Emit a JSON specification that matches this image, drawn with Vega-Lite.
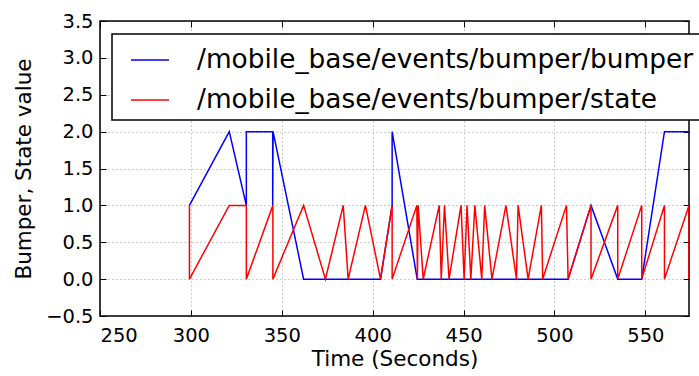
{
  "$schema": "https://vega.github.io/schema/vega-lite/v6.json",
  "width": 589,
  "height": 295,
  "autosize": {"type": "none"},
  "padding": {"left": 100, "top": 21, "right": 10, "bottom": 60},
  "background": "white",
  "config": {
    "font": "DejaVu Sans",
    "view": {"stroke": "black", "strokeWidth": 1.5},
    "axis": {
      "domain": false,
      "labelColor": "black",
      "labelFontSize": 19.5,
      "tickColor": "black",
      "tickSize": -6,
      "tickWidth": 1,
      "gridColor": "#000000",
      "gridOpacity": 0.4,
      "gridDash": [1, 3],
      "gridWidth": 1,
      "titleColor": "black",
      "titleFontSize": 21.5,
      "titleFontWeight": "normal"
    }
  },
  "datasets": {
    "bumper": [
      {"i": 0, "series": "/mobile_base/events/bumper/bumper", "t": 299.2, "v": 1},
      {"i": 1, "series": "/mobile_base/events/bumper/bumper", "t": 321.1, "v": 2},
      {"i": 2, "series": "/mobile_base/events/bumper/bumper", "t": 330.5, "v": 1},
      {"i": 3, "series": "/mobile_base/events/bumper/bumper", "t": 330.5, "v": 2},
      {"i": 4, "series": "/mobile_base/events/bumper/bumper", "t": 345.0, "v": 2},
      {"i": 5, "series": "/mobile_base/events/bumper/bumper", "t": 345.0, "v": 1},
      {"i": 6, "series": "/mobile_base/events/bumper/bumper", "t": 345.2, "v": 2},
      {"i": 7, "series": "/mobile_base/events/bumper/bumper", "t": 362.0, "v": 0},
      {"i": 8, "series": "/mobile_base/events/bumper/bumper", "t": 404.3, "v": 0},
      {"i": 9, "series": "/mobile_base/events/bumper/bumper", "t": 410.7, "v": 1},
      {"i": 10, "series": "/mobile_base/events/bumper/bumper", "t": 410.7, "v": 2},
      {"i": 11, "series": "/mobile_base/events/bumper/bumper", "t": 424.5, "v": 0},
      {"i": 12, "series": "/mobile_base/events/bumper/bumper", "t": 507.5, "v": 0},
      {"i": 13, "series": "/mobile_base/events/bumper/bumper", "t": 520.1, "v": 1},
      {"i": 14, "series": "/mobile_base/events/bumper/bumper", "t": 534.8, "v": 0},
      {"i": 15, "series": "/mobile_base/events/bumper/bumper", "t": 548.0, "v": 0},
      {"i": 16, "series": "/mobile_base/events/bumper/bumper", "t": 560.5, "v": 2},
      {"i": 17, "series": "/mobile_base/events/bumper/bumper", "t": 574.0, "v": 2}
    ],
    "state": [
      {"i": 0, "series": "/mobile_base/events/bumper/state", "t": 299.2, "v": 1},
      {"i": 1, "series": "/mobile_base/events/bumper/state", "t": 299.2, "v": 0},
      {"i": 2, "series": "/mobile_base/events/bumper/state", "t": 321.1, "v": 1},
      {"i": 3, "series": "/mobile_base/events/bumper/state", "t": 330.5, "v": 1},
      {"i": 4, "series": "/mobile_base/events/bumper/state", "t": 330.5, "v": 0},
      {"i": 5, "series": "/mobile_base/events/bumper/state", "t": 345.1, "v": 1},
      {"i": 6, "series": "/mobile_base/events/bumper/state", "t": 345.1, "v": 0},
      {"i": 7, "series": "/mobile_base/events/bumper/state", "t": 362.0, "v": 1},
      {"i": 8, "series": "/mobile_base/events/bumper/state", "t": 374.0, "v": 0},
      {"i": 9, "series": "/mobile_base/events/bumper/state", "t": 383.8, "v": 1},
      {"i": 10, "series": "/mobile_base/events/bumper/state", "t": 386.5, "v": 0},
      {"i": 11, "series": "/mobile_base/events/bumper/state", "t": 396.0, "v": 1},
      {"i": 12, "series": "/mobile_base/events/bumper/state", "t": 404.3, "v": 0},
      {"i": 13, "series": "/mobile_base/events/bumper/state", "t": 410.7, "v": 1},
      {"i": 14, "series": "/mobile_base/events/bumper/state", "t": 410.7, "v": 0},
      {"i": 15, "series": "/mobile_base/events/bumper/state", "t": 424.3, "v": 1},
      {"i": 16, "series": "/mobile_base/events/bumper/state", "t": 424.6, "v": 0},
      {"i": 17, "series": "/mobile_base/events/bumper/state", "t": 425.0, "v": 1},
      {"i": 18, "series": "/mobile_base/events/bumper/state", "t": 427.8, "v": 0},
      {"i": 19, "series": "/mobile_base/events/bumper/state", "t": 436.6, "v": 1},
      {"i": 20, "series": "/mobile_base/events/bumper/state", "t": 437.7, "v": 0},
      {"i": 21, "series": "/mobile_base/events/bumper/state", "t": 439.5, "v": 1},
      {"i": 22, "series": "/mobile_base/events/bumper/state", "t": 442.0, "v": 0},
      {"i": 23, "series": "/mobile_base/events/bumper/state", "t": 448.6, "v": 1},
      {"i": 24, "series": "/mobile_base/events/bumper/state", "t": 450.3, "v": 0},
      {"i": 25, "series": "/mobile_base/events/bumper/state", "t": 451.9, "v": 1},
      {"i": 26, "series": "/mobile_base/events/bumper/state", "t": 454.0, "v": 0},
      {"i": 27, "series": "/mobile_base/events/bumper/state", "t": 456.2, "v": 1},
      {"i": 28, "series": "/mobile_base/events/bumper/state", "t": 460.0, "v": 0},
      {"i": 29, "series": "/mobile_base/events/bumper/state", "t": 461.6, "v": 1},
      {"i": 30, "series": "/mobile_base/events/bumper/state", "t": 465.6, "v": 0},
      {"i": 31, "series": "/mobile_base/events/bumper/state", "t": 473.3, "v": 1},
      {"i": 32, "series": "/mobile_base/events/bumper/state", "t": 479.1, "v": 0},
      {"i": 33, "series": "/mobile_base/events/bumper/state", "t": 480.0, "v": 1},
      {"i": 34, "series": "/mobile_base/events/bumper/state", "t": 485.5, "v": 0},
      {"i": 35, "series": "/mobile_base/events/bumper/state", "t": 492.8, "v": 1},
      {"i": 36, "series": "/mobile_base/events/bumper/state", "t": 493.5, "v": 0},
      {"i": 37, "series": "/mobile_base/events/bumper/state", "t": 506.6, "v": 1},
      {"i": 38, "series": "/mobile_base/events/bumper/state", "t": 507.5, "v": 0},
      {"i": 39, "series": "/mobile_base/events/bumper/state", "t": 520.1, "v": 1},
      {"i": 40, "series": "/mobile_base/events/bumper/state", "t": 520.1, "v": 0},
      {"i": 41, "series": "/mobile_base/events/bumper/state", "t": 534.8, "v": 1},
      {"i": 42, "series": "/mobile_base/events/bumper/state", "t": 534.8, "v": 0},
      {"i": 43, "series": "/mobile_base/events/bumper/state", "t": 548.0, "v": 1},
      {"i": 44, "series": "/mobile_base/events/bumper/state", "t": 548.0, "v": 0},
      {"i": 45, "series": "/mobile_base/events/bumper/state", "t": 560.5, "v": 1},
      {"i": 46, "series": "/mobile_base/events/bumper/state", "t": 560.5, "v": 0},
      {"i": 47, "series": "/mobile_base/events/bumper/state", "t": 574.0, "v": 1},
      {"i": 48, "series": "/mobile_base/events/bumper/state", "t": 574.0, "v": 0}
    ]
  },
  "resolve": {"axis": {"x": "independent", "y": "independent"}},
  "layer": [
    {
      "data": {"name": "bumper"},
      "mark": {"type": "line", "strokeWidth": 1.5, "clip": true},
      "encoding": {
        "x": {
          "field": "t", "type": "quantitative",
          "scale": {"domain": [250, 574], "nice": false, "zero": false},
          "axis": {
            "orient": "bottom",
            "values": [250, 300, 350, 400, 450, 500, 550],
            "format": "d",
            "labelPadding": 16,
            "title": "Time (Seconds)",
            "titleBaseline": "alphabetic",
            "titleY": 49,
            "grid": true
          }
        },
        "y": {
          "field": "v", "type": "quantitative",
          "scale": {"domain": [-0.5, 3.5], "nice": false, "zero": false},
          "axis": {
            "orient": "left",
            "values": [-0.5, 0, 0.5, 1, 1.5, 2, 2.5, 3, 3.5],
            "format": ".1f",
            "labelPadding": 13,
            "title": "Bumper, State value",
            "titleX": -70,
            "titleY": 147.5,
            "titleAngle": -90,
            "titleAlign": "center",
            "titleBaseline": "alphabetic",
            "grid": true
          }
        },
        "order": {"field": "i", "type": "quantitative"},
        "color": {
          "field": "series", "type": "nominal",
          "scale": {
            "domain": ["/mobile_base/events/bumper/bumper", "/mobile_base/events/bumper/state"],
            "range": ["#0000ff", "#ff0000"]
          },
          "legend": {
            "orient": "none",
            "legendX": 12,
            "legendY": 13,
            "title": null,
            "padding": 6,
            "strokeColor": "black",
            "fillColor": "white",
            "cornerRadius": 0,
            "symbolType": "stroke",
            "symbolSize": 1444,
            "symbolStrokeWidth": 1.5,
            "symbolOffset": 12,
            "labelOffset": 27,
            "labelFontSize": 26.4,
            "labelColor": "black",
            "labelLimit": 0,
            "rowPadding": 6,
            "encode": {"legend": {"update": {"strokeWidth": {"value": 1.5}}}}
          }
        }
      }
    },
    {
      "data": {"name": "state"},
      "mark": {"type": "line", "strokeWidth": 1.5, "clip": true},
      "encoding": {
        "x": {
          "field": "t", "type": "quantitative",
          "axis": {
            "orient": "top",
            "values": [250, 300, 350, 400, 450, 500, 550],
            "labels": false,
            "grid": false,
            "title": null
          }
        },
        "y": {
          "field": "v", "type": "quantitative",
          "axis": {
            "orient": "right",
            "values": [-0.5, 0, 0.5, 1, 1.5, 2, 2.5, 3, 3.5],
            "labels": false,
            "grid": false,
            "title": null
          }
        },
        "order": {"field": "i", "type": "quantitative"},
        "color": {"field": "series", "type": "nominal"}
      }
    }
  ]
}
